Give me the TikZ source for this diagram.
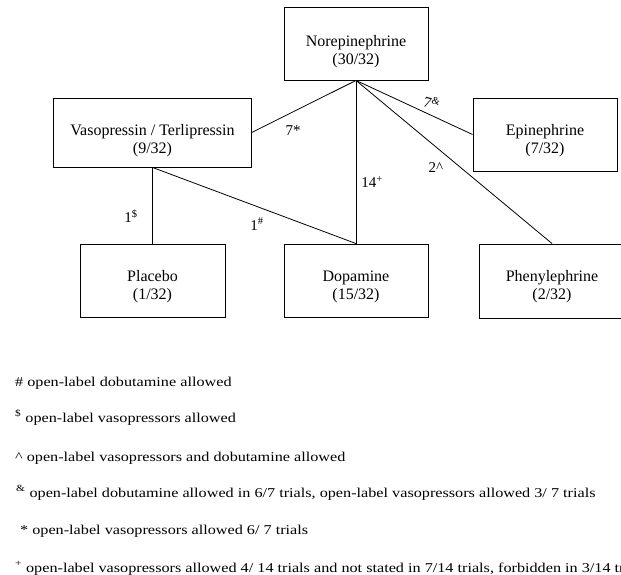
\documentclass[tikz,border=0pt]{standalone}
\usepackage{fontspec}
\setmainfont{Liberation Serif}
\newfontfamily\legfont{Liberation Serif}[FakeStretch=1.2]
\begin{document}
\begin{tikzpicture}[x=1pt,y=-1pt,
  box/.style={draw, rectangle, line width=0.9pt, inner sep=0pt},
  boxtext/.style={font=\fontsize{16}{18}\selectfont, align=center, inner sep=0pt},
  lnk/.style={line width=0.8pt},
  elab/.style={font=\fontsize{15}{17}\selectfont, inner sep=0pt},
  leg/.style={anchor=base west, font=\legfont\fontsize{13.5}{15}\selectfont, inner sep=0pt}]
\useasboundingbox (0,0) rectangle (621,575);
\clip (0,0) rectangle (621,575);
\fill[white] (0,0) rectangle (621,575);
% boxes
\node[box, minimum width=144pt, minimum height=73pt] (nor) at (356,43.5) {};
\node[box, minimum width=197.5pt, minimum height=69pt] (vaso) at (152.5,132.5) {};
\node[box, minimum width=144pt, minimum height=73pt] (epi) at (545,134.5) {};
\node[box, minimum width=145pt, minimum height=73pt] (plac) at (152.5,280.5) {};
\node[box, minimum width=144pt, minimum height=73pt] (dopa) at (356,280.5) {};
\node[box, minimum width=146pt, minimum height=74pt] (phen) at (552,281) {};
% box texts
\node[boxtext] (norT) at ([yshift=-8pt]nor.center) {Norepinephrine\\(30/32)};
\node[boxtext] (vasoT) at ([yshift=-8pt]vaso.center) {Vasopressin / Terlipressin\\(9/32)};
\node[boxtext] (epiT) at ([yshift=-6pt]epi.center) {Epinephrine\\(7/32)};
\node[boxtext] (placT) at ([yshift=-6pt]plac.center) {Placebo\\(1/32)};
\node[boxtext] (dopaT) at ([yshift=-6pt]dopa.center) {Dopamine\\(15/32)};
\node[boxtext] (phenT) at ([yshift=-6pt]phen.center) {Phenylephrine\\(2/32)};
% connectors
\draw[lnk] (nor.south) -- (vaso.east);
\draw[lnk] (nor.south) -- (epi.west);
\draw[lnk] (nor.south) -- (dopa.north);
\draw[lnk] (nor.south) -- (phen.north);
\draw[lnk] (vaso.south) -- (plac.north);
\draw[lnk] (vaso.south) -- (dopa.north);
% edge labels
\node[elab] (l7s) at (293,131) {7*};
\node[elab, rotate=-15] (l7a) at (432,103) {7\textsuperscript{\&}};
\node[elab] (l2c) at (436,168) {2\^{}};
\node[elab] (l14) at (372,182) {14\textsuperscript{+}};
\node[elab] (l1d) at (131,216) {1\textsuperscript{\$}};
\node[elab] (l1h) at (257,224) {1\textsuperscript{\#}};
% legend
\node[leg] (g1) at (15,386) {\# open-label dobutamine allowed};
\node[leg] (g2) at (15,422) {\textsuperscript{\$} open-label vasopressors allowed};
\node[leg] (g3) at (15,461) {\^{} open-label vasopressors and dobutamine allowed};
\node[leg] (g4) at (16,497) {\textsuperscript{\&} open-label dobutamine allowed in 6/7 trials, open-label vasopressors allowed 3/ 7 trials};
\node[leg] (g5) at (20,534) {* open-label vasopressors allowed 6/ 7 trials};
\node[leg] (g6) at (15,572) {\textsuperscript{+} open-label vasopressors allowed 4/ 14 trials and not stated in 7/14 trials, forbidden in 3/14 trials};
\end{tikzpicture}
\end{document}
